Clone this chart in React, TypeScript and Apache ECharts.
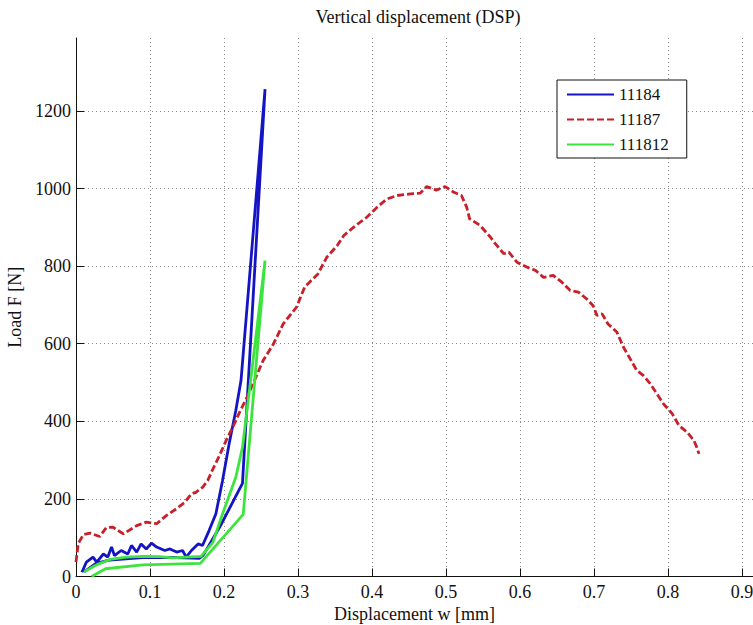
import React, { useEffect, useRef } from "react";
import * as echarts from "echarts";

const title = "Vertical displacement (DSP)";
const xName = "Displacement w [mm]";
const yName = "Load F [N]";
const seriesNames = ["11184", "11187", "111812"];

// [displacement mm, load N]
const s11184: number[][] = [
  [0.008, 11], [0.014, 37], [0.023, 50], [0.028, 37], [0.037, 58], [0.043, 50],
  [0.048, 76], [0.052, 54], [0.061, 67], [0.07, 58], [0.075, 80], [0.082, 63],
  [0.088, 84], [0.095, 71], [0.102, 86], [0.109, 76], [0.12, 67], [0.127, 71],
  [0.136, 63], [0.144, 67], [0.149, 50], [0.156, 67], [0.165, 84], [0.171, 80],
  [0.18, 119], [0.189, 161], [0.198, 247], [0.207, 342], [0.216, 428], [0.223, 505],
  [0.2555, 1256], [0.225, 240], [0.195, 130], [0.172, 55], [0.167, 47], [0.135, 49],
  [0.09, 49], [0.045, 42], [0.027, 34], [0.011, 12],
];

const s11187: number[][] = [
  [0, 37], [0.003, 85], [0.01, 108], [0.019, 112], [0.032, 103], [0.041, 126],
  [0.05, 127], [0.064, 110], [0.082, 131], [0.095, 140], [0.109, 136], [0.122, 157],
  [0.136, 175], [0.147, 191], [0.156, 213], [0.162, 217], [0.171, 230], [0.178, 247],
  [0.185, 277], [0.194, 312], [0.203, 351], [0.212, 385], [0.221, 423], [0.231, 462],
  [0.24, 500], [0.253, 557], [0.267, 600], [0.28, 651], [0.298, 694], [0.309, 746],
  [0.327, 780], [0.339, 823], [0.353, 853], [0.362, 879], [0.375, 900], [0.393, 926],
  [0.407, 952], [0.42, 973], [0.434, 982], [0.452, 986], [0.465, 988], [0.474, 1005],
  [0.487, 996], [0.499, 1005], [0.51, 991], [0.521, 982], [0.528, 952], [0.532, 922],
  [0.546, 905], [0.56, 875], [0.565, 862], [0.578, 832], [0.585, 836], [0.596, 810],
  [0.61, 797], [0.621, 789], [0.632, 771], [0.645, 776], [0.657, 758], [0.668, 737],
  [0.679, 733], [0.69, 716], [0.699, 698], [0.704, 673], [0.711, 677], [0.719, 651],
  [0.731, 630], [0.74, 591], [0.749, 561], [0.758, 531], [0.767, 518], [0.776, 497],
  [0.785, 471], [0.794, 445], [0.806, 419], [0.815, 389], [0.826, 372], [0.835, 351],
  [0.839, 333], [0.842, 316],
];

const s111812: number[][] = [
  [0.011, 12], [0.02, 22], [0.03, 32], [0.046, 44], [0.068, 50], [0.09, 52],
  [0.113, 51], [0.13, 48], [0.149, 50], [0.169, 52], [0.185, 88], [0.198, 161],
  [0.216, 256], [0.225, 333], [0.236, 505], [0.2555, 814], [0.226, 160],
  [0.168, 34], [0.09, 30], [0.04, 20], [0.021, 0],
];

const X_MIN = 0;
const X_MAX = 0.915;
const X_STEP = 0.1;
const Y_MIN = 0;
const Y_MAX = 1388;
const Y_STEP = 200;

const FONT = "Liberation Serif";

export default function App() {
  const ref = useRef<HTMLDivElement>(null);
  useEffect(() => {
    if (!ref.current) return;
    const chart = echarts.init(ref.current, undefined, { renderer: "svg" });
    const gridLine = { show: true, showMaxLine: false, lineStyle: { color: "#8a8a8a", type: [1, 3] as any, width: 1 } };
    chart.setOption({
      animation: false,
      backgroundColor: "#ffffff",
      textStyle: { fontFamily: FONT },
      graphic: [
        {
          type: "text",
          x: 418,
          y: 17,
          style: {
            text: title,
            align: "center",
            verticalAlign: "middle",
            font: "18px " + FONT,
            fill: "#111",
          },
        },
      ],
      legend: {
        orient: "vertical",
        left: 557,
        top: 80,
        padding: [6, 18, 5, 9],
        itemWidth: 47,
        itemHeight: 14,
        itemGap: 8,
        borderColor: "#111",
        borderWidth: 1,
        backgroundColor: "#fff",
        borderRadius: 0,
        itemStyle: { opacity: 0 },
        textStyle: { fontFamily: FONT, fontSize: 17, color: "#111", lineHeight: 17 },
        data: seriesNames,
      },
      grid: { left: 76, right: 0, top: 38, bottom: 48.5, containLabel: false, outerBoundsMode: "none" },
      xAxis: {
        type: "value",
        min: X_MIN,
        max: X_MAX,
        interval: X_STEP,
        name: xName,
        nameLocation: "middle",
        nameGap: 17,
        nameTextStyle: { fontFamily: FONT, fontSize: 18, color: "#111" },
        axisLine: { show: true, onZero: false, lineStyle: { color: "#111", width: 1 } },
        axisTick: { show: true, inside: true, length: 8, lineStyle: { color: "#111" } },
        axisLabel: {
          fontFamily: FONT,
          fontSize: 18,
          color: "#111",
          margin: 6,
          showMaxLabel: false,
          formatter: (v: number) => (v > 0.905 ? "" : String(Math.round(v * 10) / 10)),
        },
        splitLine: gridLine,
      },
      yAxis: {
        type: "value",
        min: Y_MIN,
        max: Y_MAX,
        interval: Y_STEP,
        name: yName,
        nameLocation: "middle",
        nameGap: 52,
        nameTextStyle: { fontFamily: FONT, fontSize: 18, color: "#111" },
        axisLine: { show: true, onZero: false, lineStyle: { color: "#111", width: 1 } },
        axisTick: { show: true, inside: true, length: 8, lineStyle: { color: "#111" } },
        axisLabel: {
          fontFamily: FONT,
          fontSize: 18,
          color: "#111",
          margin: 5,
          showMaxLabel: false,
          formatter: (v: number) => (v % 200 === 0 ? String(v) : ""),
        },
        splitLine: gridLine,
      },
      series: [
        {
          name: seriesNames[0],
          type: "line",
          data: s11184,
          symbol: "none",
          lineStyle: { color: "#1414c4", width: 2.8 },
          itemStyle: { color: "#1414c4" },
        },
        {
          name: seriesNames[1],
          type: "line",
          data: s11187,
          symbol: "none",
          lineStyle: { color: "#c8202a", width: 2.8, type: [7, 3] },
          itemStyle: { color: "#c8202a" },
        },
        {
          name: seriesNames[2],
          type: "line",
          data: s111812,
          symbol: "none",
          lineStyle: { color: "#3ee43e", width: 2.8 },
          itemStyle: { color: "#3ee43e" },
        },
      ],
    });
    return () => chart.dispose();
  }, []);
  return <div ref={ref} style={{ width: 753, height: 625, position: "absolute", left: 0, top: 0 }} />;
}
